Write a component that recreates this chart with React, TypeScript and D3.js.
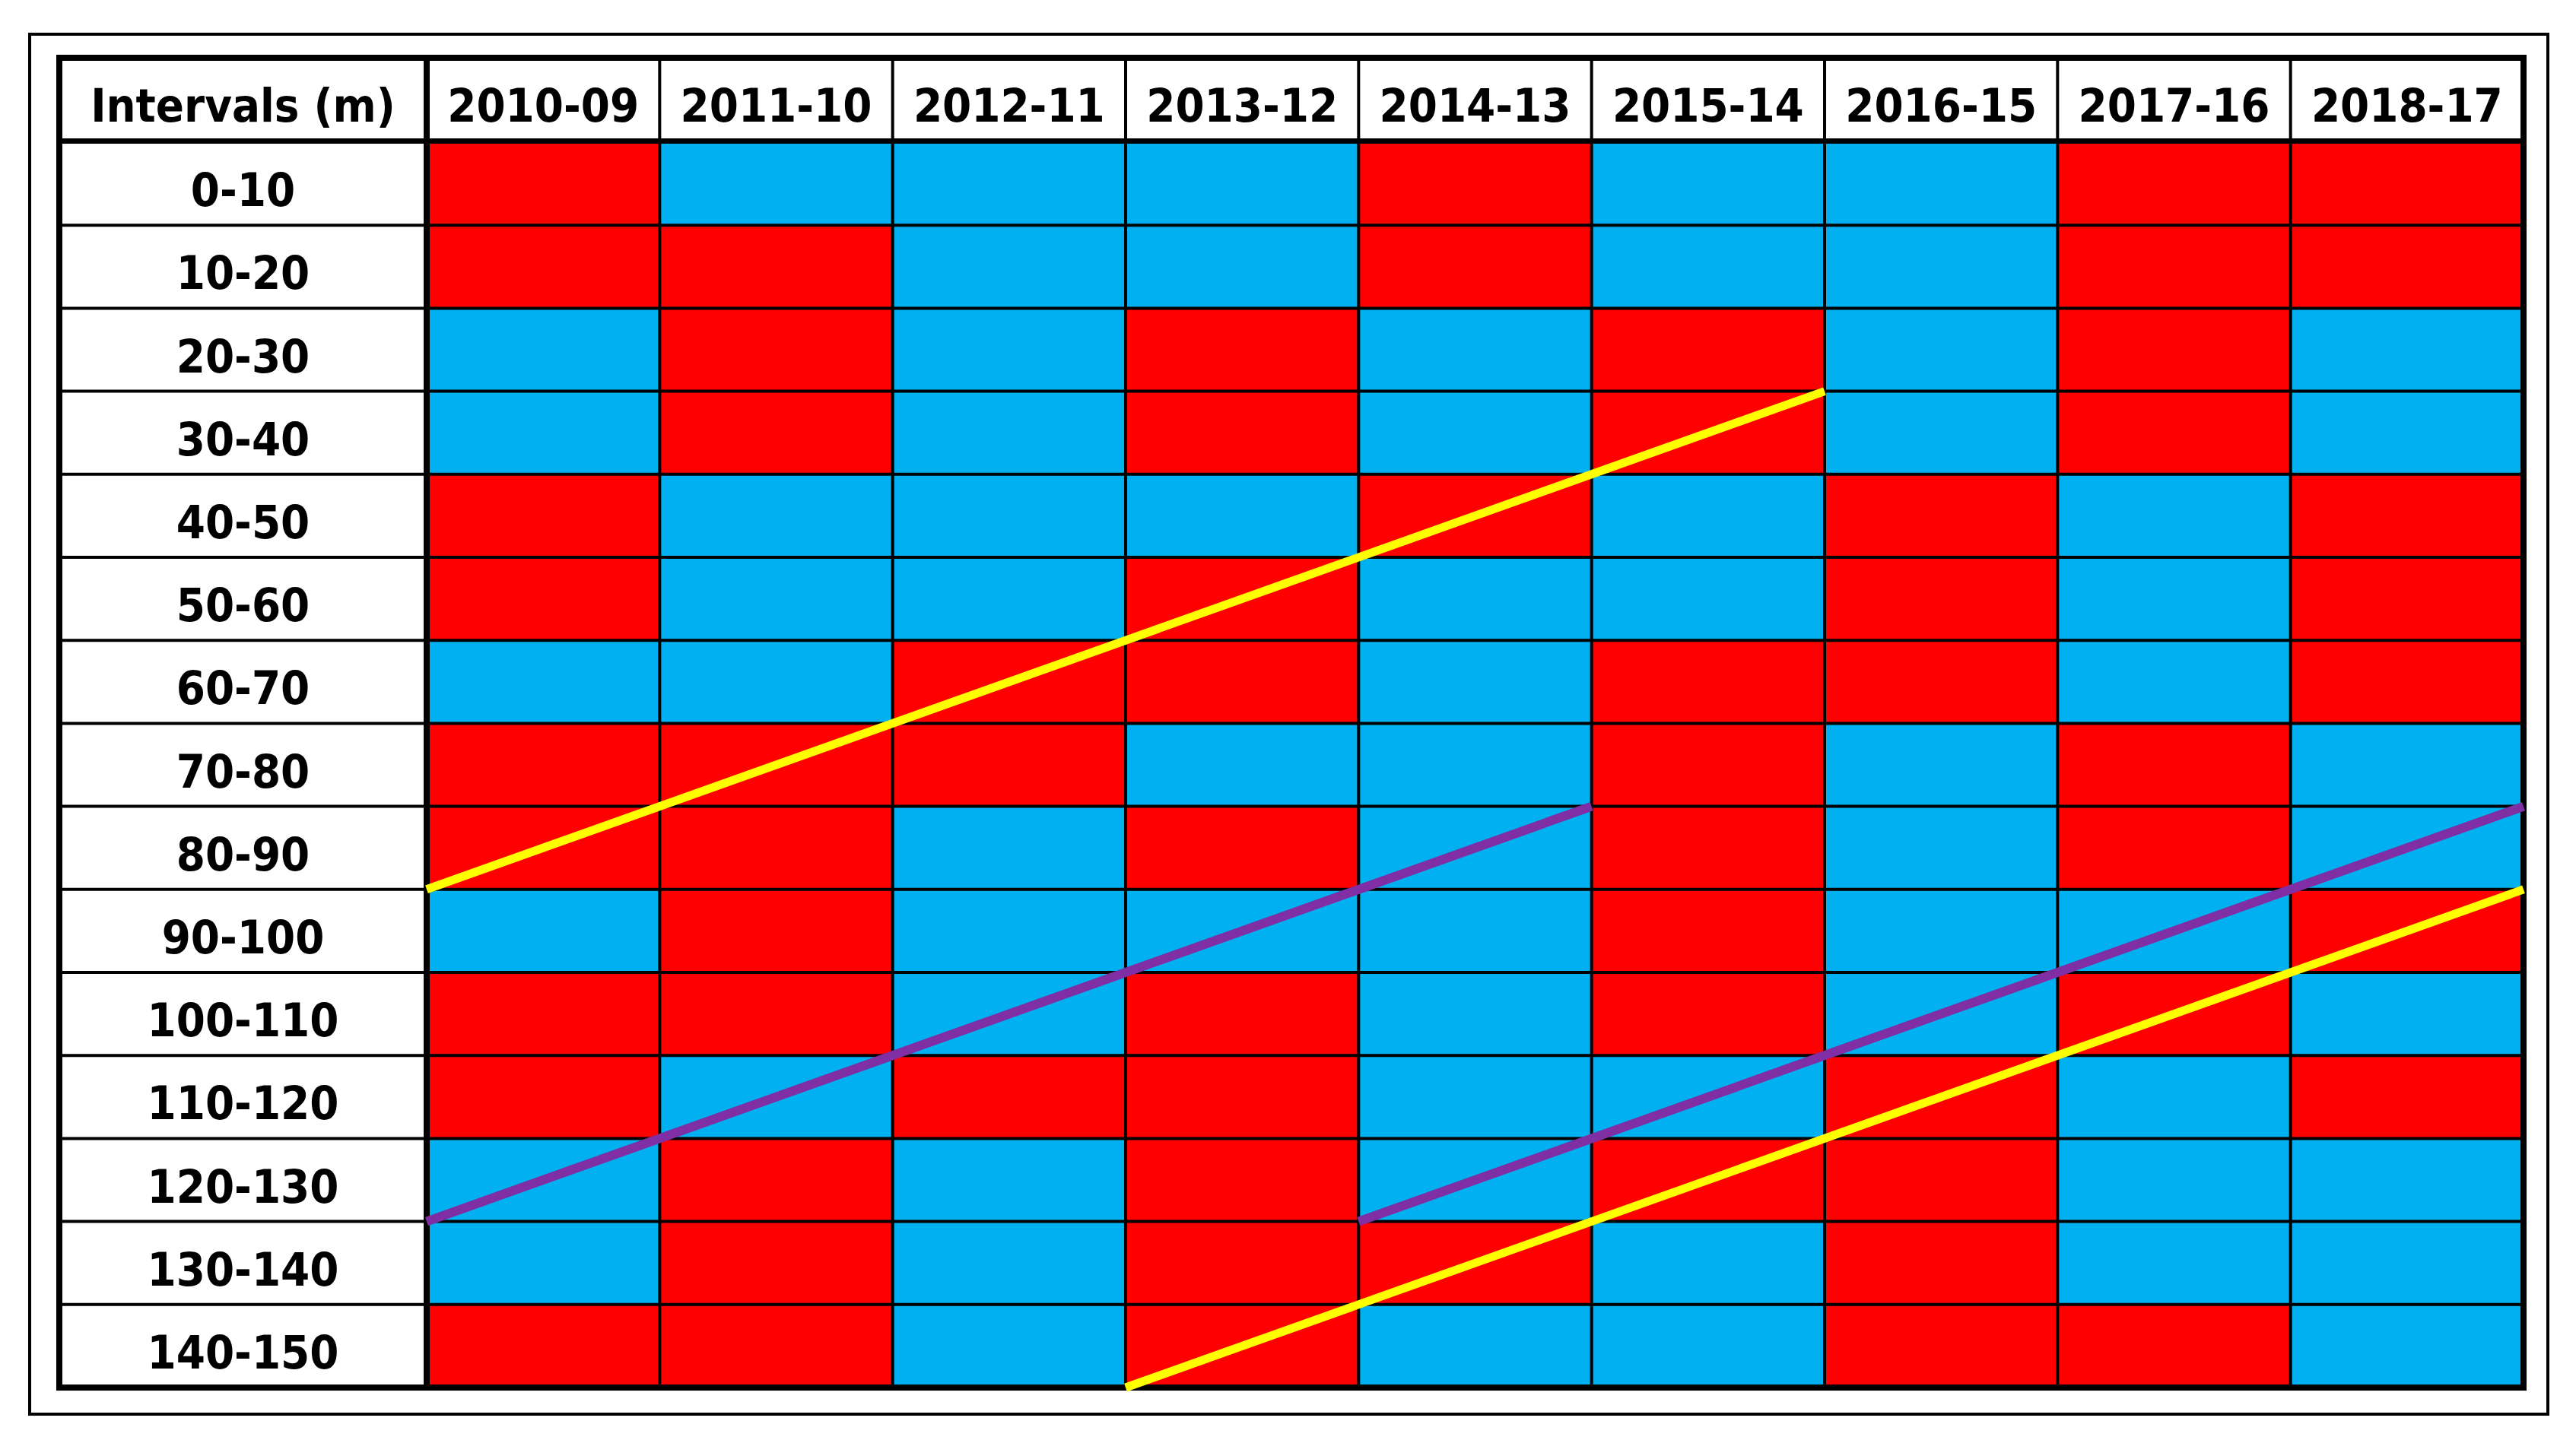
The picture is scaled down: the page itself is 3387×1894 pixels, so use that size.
import React from "react";
import * as d3 from "d3";

// ---------- data ----------
const intervals = [
  "0-10", "10-20", "20-30", "30-40", "40-50", "50-60", "60-70", "70-80",
  "80-90", "90-100", "100-110", "110-120", "120-130", "130-140", "140-150",
];
const seasons = [
  "2010-09", "2011-10", "2012-11", "2013-12", "2014-13",
  "2015-14", "2016-15", "2017-16", "2018-17",
];
// one code per season: R = red, B = blue
const cellCodes = [
  "RBBBRBBRR",
  "RRBBRBBRR",
  "BRBRBRBRB",
  "BRBRBRBRB",
  "RBBBRBRBR",
  "RBBRBBRBR",
  "BBRRBRRBR",
  "RRRBBRBRB",
  "RRBRBRBRB",
  "BRBBBRBBR",
  "RRBRBRBRB",
  "RBRRBBRBR",
  "BRBRBRRBB",
  "BRBRRBRBB",
  "RRBRBBRRB",
];
// trend lines: [season boundary start, interval boundary start, season boundary end, interval boundary end]
const yellowLines = [
  [0, 9, 6, 3],
  [3, 15, 9, 9],
];
const purpleLines = [
  [0, 13, 5, 8],
  [4, 13, 9, 8],
];

const codeColor: Record<string, string> = { R: "#FF0000", B: "#00B0F0" };

export default function App() {
  const W = 3387;
  const H = 1894;
  const tableLeft = 78;
  const tableRight = 3318;
  const tableTop = 76;
  const tableBottom = 1825;
  const labelRight = 561;
  const headerBottom = 185.5;

  const x = d3.scaleLinear().domain([0, seasons.length]).range([labelRight, tableRight]);
  const y = d3.scaleLinear().domain([0, intervals.length]).range([187, tableBottom]);

  const font = "'DejaVu Sans Condensed', 'DejaVu Sans', sans-serif";
  const fs = 61;
  const textProps = {
    fontFamily: font,
    fontWeight: 700,
    fontSize: fs,
    fontStretch: "condensed",
    textAnchor: "middle" as const,
    fill: "#000",
  };

  const cells: React.ReactNode[] = [];
  cellCodes.forEach((row, i) => {
    seasons.forEach((s, j) => {
      cells.push(
        <rect
          key={`c-${i}-${j}`}
          x={x(j)}
          y={y(i)}
          width={x(j + 1) - x(j)}
          height={y(i + 1) - y(i)}
          fill={codeColor[row[j]]}
        />
      );
    });
  });

  const lineGen = (seg: number[]) =>
    d3.line()([
      [x(seg[0]), y(seg[1])],
      [x(seg[2]), y(seg[3])],
    ]) as string;

  return (
    <svg
      width={W}
      height={H}
      style={{ position: "absolute", left: 0, top: 0, background: "#fff" }}
    >
      <rect x={0} y={0} width={W} height={H} fill="#fff" />
      {/* outer frame */}
      <rect x={39} y={45} width={3350 - 39} height={1860 - 45} fill="none" stroke="#000" strokeWidth={4} />

      {/* white table background */}
      <rect x={tableLeft} y={tableTop} width={tableRight - tableLeft} height={tableBottom - tableTop} fill="#fff" />

      {cells}

      {/* horizontal grid lines */}
      {d3.range(1, intervals.length).map((k) => (
        <line key={`h${k}`} x1={tableLeft} x2={tableRight} y1={y(k)} y2={y(k)} stroke="#000" strokeWidth={4} />
      ))}
      {/* vertical grid lines */}
      {d3.range(1, seasons.length).map((k) => (
        <line key={`v${k}`} x1={x(k)} x2={x(k)} y1={tableTop} y2={tableBottom} stroke="#000" strokeWidth={4} />
      ))}

      {/* thick dividers */}
      <line x1={tableLeft} x2={tableRight} y1={headerBottom} y2={headerBottom} stroke="#000" strokeWidth={7} />
      <line x1={labelRight} x2={labelRight} y1={tableTop} y2={tableBottom} stroke="#000" strokeWidth={8} />
      <rect
        x={tableLeft}
        y={tableTop}
        width={tableRight - tableLeft}
        height={tableBottom - tableTop}
        fill="none"
        stroke="#000"
        strokeWidth={8}
      />

      {/* header texts */}
      <text {...textProps} x={(tableLeft + labelRight) / 2} y={(tableTop + headerBottom) / 2 + 29.5}>
        Intervals (m)
      </text>
      {seasons.map((s, j) => (
        <text key={`s${j}`} {...textProps} x={(x(j) + x(j + 1)) / 2} y={(tableTop + headerBottom) / 2 + 29.5}>
          {s}
        </text>
      ))}
      {intervals.map((lab, i) => (
        <text key={`r${i}`} {...textProps} x={(tableLeft + labelRight) / 2} y={(y(i) + y(i + 1)) / 2 + 29.5}>
          {lab}
        </text>
      ))}

      {/* trend lines */}
      {purpleLines.map((seg, k) => (
        <path key={`p${k}`} d={lineGen(seg)} stroke="#7F2FA3" strokeWidth={12} fill="none" />
      ))}
      {yellowLines.map((seg, k) => (
        <path key={`y${k}`} d={lineGen(seg)} stroke="#FFFF00" strokeWidth={11} fill="none" />
      ))}
    </svg>
  );
}
